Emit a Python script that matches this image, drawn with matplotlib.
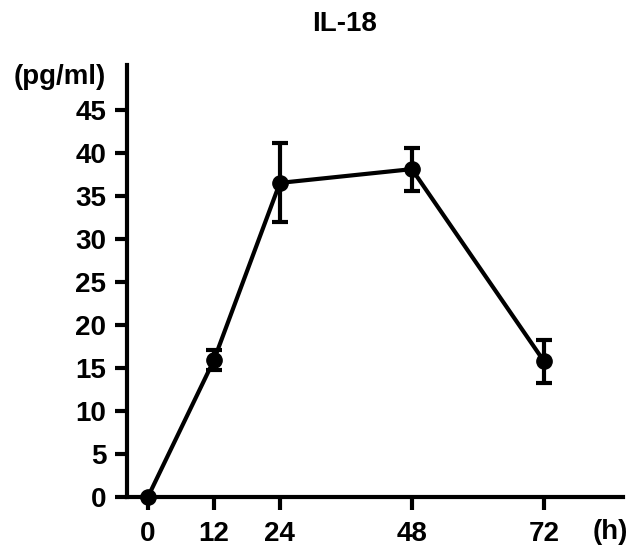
import numpy as np
import matplotlib
matplotlib.use("Agg")
import matplotlib.pyplot as plt

plt.rcParams['font.family'] = ['Liberation Sans', 'DejaVu Sans']
plt.rcParams['font.weight'] = 'bold'

# Datos
hours = [0, 12, 24, 48, 72]
il18 = [0.0, 15.9, 36.5, 38.1, 15.8]
il18_err = [0.0, 1.2, 4.6, 2.5, 2.5]
xtick_labels = ['0', '12', '24', '48', '72']
yticks = [0, 5, 10, 15, 20, 25, 30, 35, 40, 45]

fig = plt.figure(figsize=(6.3, 5.51), dpi=100)
ax = fig.add_axes([127 / 630, 54 / 551, 496 / 630, 432 / 551])

ax.errorbar(hours, il18, yerr=il18_err, color='black', lw=3, marker='o',
            markersize=11, capsize=5.5, capthick=3, elinewidth=3, clip_on=False, zorder=3)

ax.set_xlim(-3.8, 86.4)
ax.set_ylim(0, 50.2)
ax.set_xticks(hours)
ax.set_xticklabels(xtick_labels)
ax.set_yticks(yticks)

for side in ['top', 'right']:
    ax.spines[side].set_visible(False)
for side in ['left', 'bottom']:
    ax.spines[side].set_linewidth(3)

ax.tick_params(axis='both', direction='out', length=9, width=3, labelsize=20)
ax.tick_params(axis='y', pad=6)
ax.tick_params(axis='x', pad=8)

fig.text(345 / 630, 1 - 24 / 551, 'IL-18', ha='center', va='center', fontsize=20, fontweight='bold')
fig.text(60 / 630, 1 - 77 / 551, '(pg/ml)', ha='center', va='center', fontsize=20, fontweight='bold')
fig.text(610 / 630, 1 - 532 / 551, '(h)', ha='center', va='center', fontsize=20, fontweight='bold')

plt.savefig('out.png', dpi=100)
plt.close()
